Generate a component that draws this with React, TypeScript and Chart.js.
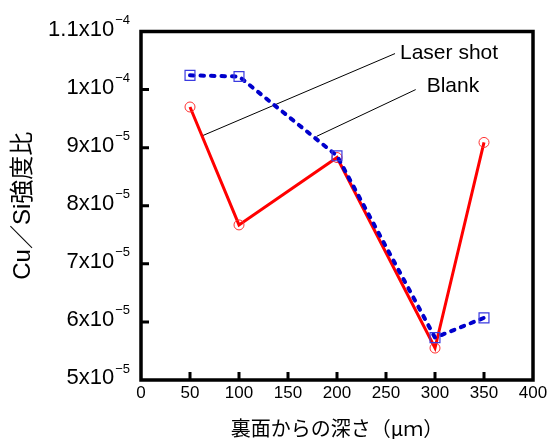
import React, { useEffect, useRef } from "react";
import { Chart, registerables } from "chart.js";
Chart.register(...registerables);

const depths = [50, 100, 200, 300, 350];
const laserShot = [9.7e-5, 7.67e-5, 8.83e-5, 5.55e-5, 9.09e-5];
const blank = [1.0245e-4, 1.0225e-4, 8.86e-5, 5.73e-5, 6.07e-5];

const xTicks = [0, 50, 100, 150, 200, 250, 300, 350, 400];
const yTickValues = [5e-5, 6e-5, 7e-5, 8e-5, 9e-5, 1e-4, 1.1e-4];
const yTickMantissas = ["5x10", "6x10", "7x10", "8x10", "9x10", "1x10", "1.1x10"];
const yTickExponents = ["−5", "−5", "−5", "−5", "−5", "−4", "−4"];

const xTitle = "裏面からの深さ\uFF08\u03BC\uFF4D\uFF09";
const yTitle = "Cu\uFF0FSi強度比";

const calloutTexts = ["Laser shot", "Blank"];
const calloutTextPos = [[264.3, 1.0522e-4], [291.5, 9.96e-5]];
const calloutFrom = [[259.2, 1.062e-4], [280.3, 1.0e-4]];
const calloutTo = [[63, 9.208e-5], [179.3, 9.196e-5]];

const LATIN = '"Liberation Sans", Arial, sans-serif';
const MIXED = '"Liberation Sans", "Noto Sans CJK JP", sans-serif';
const CJK = '"Noto Sans CJK JP", sans-serif';

const calloutPlugin = {
  id: "callouts",
  beforeDatasetsDraw(chart: any) {
    const { ctx, scales } = chart;
    const x = scales.x, y = scales.y;
    ctx.save();
    ctx.strokeStyle = "#000";
    ctx.lineWidth = 1;
    for (let i = 0; i < calloutTexts.length; i++) {
      ctx.beginPath();
      ctx.moveTo(x.getPixelForValue(calloutFrom[i][0]), y.getPixelForValue(calloutFrom[i][1]));
      ctx.lineTo(x.getPixelForValue(calloutTo[i][0]), y.getPixelForValue(calloutTo[i][1]));
      ctx.stroke();
    }
    ctx.fillStyle = "#000";
    ctx.font = `21px ${LATIN}`;
    ctx.textAlign = "left";
    ctx.textBaseline = "alphabetic";
    for (let i = 0; i < calloutTexts.length; i++) {
      ctx.fillText(
        calloutTexts[i],
        x.getPixelForValue(calloutTextPos[i][0]),
        y.getPixelForValue(calloutTextPos[i][1])
      );
    }
    ctx.restore();
  },
};

const framePlugin = {
  id: "frame",
  afterDraw(chart: any) {
    const { ctx, chartArea: a, scales } = chart;
    const x = scales.x, y = scales.y;
    ctx.save();
    ctx.strokeStyle = "#000";
    ctx.lineWidth = 3;
    ctx.beginPath();
    yTickValues.forEach((v, i) => {
      if (i === 0 || i === yTickValues.length - 1) return;
      const py = y.getPixelForValue(v);
      ctx.moveTo(a.left, py);
      ctx.lineTo(a.left + 8, py);
    });
    xTicks.forEach((v, i) => {
      if (i === 0 || i === xTicks.length - 1) return;
      const px = x.getPixelForValue(v);
      ctx.moveTo(px, a.bottom);
      ctx.lineTo(px, a.bottom - 8);
    });
    ctx.stroke();
    ctx.lineWidth = 3.5;
    ctx.strokeRect(a.left, a.top, a.right - a.left, a.bottom - a.top);

    // y tick labels with superscript exponents
    ctx.fillStyle = "#000";
    ctx.textAlign = "left";
    ctx.textBaseline = "alphabetic";
    const rightEdge = a.left - 11;
    yTickValues.forEach((v, i) => {
      const py = y.getPixelForValue(v);
      ctx.font = `13px ${LATIN}`;
      const supW = ctx.measureText(yTickExponents[i]).width;
      ctx.font = `22px ${LATIN}`;
      const mainW = ctx.measureText(yTickMantissas[i]).width;
      const supX = rightEdge - supW;
      const mainX = supX - 1 - mainW;
      ctx.fillText(yTickMantissas[i], mainX, py + 4);
      ctx.font = `13px ${LATIN}`;
      ctx.fillText(yTickExponents[i], supX, py - 7.5);
    });
    ctx.restore();
  },
};

export default function App() {
  const ref = useRef<HTMLCanvasElement | null>(null);
  useEffect(() => {
    if (!ref.current) return;
    const chart = new Chart(ref.current, {
      type: "line",
      data: {
        datasets: [
          {
            label: "Blank",
            data: depths.map((d, i) => ({ x: d, y: blank[i] })),
            borderColor: "#0000cc",
            borderWidth: 4,
            borderDash: [3.5, 7],
            borderCapStyle: "round",
            pointStyle: "rect",
            pointRadius: 7,
            pointBorderWidth: 1.2,
            pointBorderColor: "#3a3ae0",
            pointBackgroundColor: "rgba(0,0,0,0)",
            tension: 0,
            fill: false,
          },
          {
            label: "Laser shot",
            data: depths.map((d, i) => ({ x: d, y: laserShot[i] })),
            borderColor: "#ff0000",
            borderWidth: 3,
            pointStyle: "circle",
            pointRadius: 5,
            pointBorderWidth: 1,
            pointBorderColor: "#ff3030",
            pointBackgroundColor: "rgba(0,0,0,0)",
            tension: 0,
            fill: false,
          },
        ],
      },
      options: {
        animation: false,
        responsive: true,
        maintainAspectRatio: false,
        devicePixelRatio: 1,
        layout: { padding: { top: 31.5, right: 18, left: 0, bottom: 0 } },
        plugins: { legend: { display: false }, tooltip: { enabled: false } },
        scales: {
          x: {
            type: "linear",
            min: 0,
            max: 400,
            afterBuildTicks: (s: any) => {
              s.ticks = xTicks.map((v) => ({ value: v }));
            },
            afterFit: (s: any) => {
              s.height = 59;
            },
            grid: { display: false, drawTicks: false },
            border: { display: false },
            ticks: {
              padding: 3,
              color: "#000",
              font: { family: LATIN, size: 17 },
              maxRotation: 0,
              autoSkip: false,
              callback: (v: any) => String(v),
            },
            title: {
              display: true,
              text: xTitle,
              color: "#000",
              font: { family: CJK, size: 20, lineHeight: 1 },
              padding: { top: 0, bottom: 1 },
            },
          },
          y: {
            type: "linear",
            min: 5e-5,
            max: 1.1e-4,
            afterBuildTicks: (s: any) => {
              s.ticks = yTickValues.map((v) => ({ value: v }));
            },
            afterFit: (s: any) => {
              s.width = 141;
            },
            grid: { display: false, drawTicks: false },
            border: { display: false },
            ticks: { display: false },
            title: {
              display: true,
              text: yTitle,
              color: "#000",
              font: { family: MIXED, size: 24, lineHeight: 1 },
              padding: { top: 11, bottom: 0 },
            },
          },
        },
      },
      plugins: [calloutPlugin, framePlugin],
    } as any);
    return () => chart.destroy();
  }, []);
  return (
    <div style={{ position: "absolute", left: 0, top: 0, width: 551, height: 439 }}>
      <canvas ref={ref} />
    </div>
  );
}
